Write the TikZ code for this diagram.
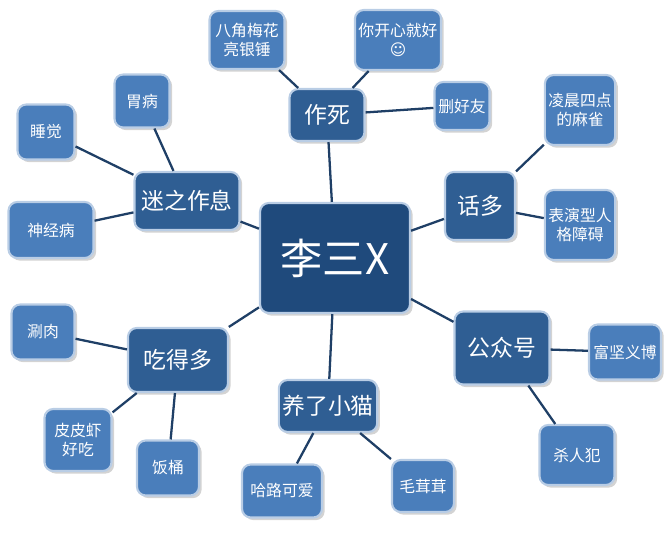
\documentclass[tikz,border=0pt]{standalone}
\usepackage{fontspec}
\setmainfont{Noto Sans CJK SC}
\newfontfamily\symfont{DejaVu Sans}
\usetikzlibrary{shadows}
\definecolor{hubblue}{HTML}{1F4A7C}
\definecolor{midblue}{HTML}{2F5E93}
\definecolor{leafblue}{HTML}{4A7EBB}
\definecolor{edgeblue}{HTML}{B9CDE5}
\definecolor{linkblue}{HTML}{1F3F66}

\begin{document}
\begin{tikzpicture}[x=0.02cm, y=-0.02cm,
    box/.style={draw=edgeblue, line width=1.2pt, rounded corners=5pt, text=white,
      align=center, inner sep=2pt, drop shadow={shadow xshift=1.5pt, shadow yshift=-1.5pt, opacity=0.35}},
    hub/.style={box, fill=hubblue, minimum width=3cm, minimum height=2.2cm, font=\fontsize{24}{28}\selectfont},
    topic/.style={box, fill=midblue, font=\fontsize{13}{15}\selectfont},
    leaf/.style={box, fill=leafblue, font=\fontsize{9}{11}\selectfont},
    link/.style={linkblue, line width=1.3pt}]
  \useasboundingbox (0,0) rectangle (672,536);

  % hub and topics
  \node[hub] (li) at (335,258) {李三X};
  \node[topic, minimum width=1.5cm, minimum height=1.04cm] (zuosi) at (327,115) {作死};
  \node[topic, minimum width=1.4cm, minimum height=1.36cm] (huaduo) at (480,206) {话多};
  \node[topic, minimum width=1.9cm, minimum height=1.46cm] (gzh) at (502,348) {公众号};
  \node[topic, minimum width=1.9cm, minimum height=1.04cm] (mao) at (328,406) {养了小猫};
  \node[topic, minimum width=2cm, minimum height=1.28cm] (chi) at (178,360) {吃得多};
  \node[topic, minimum width=2.1cm, minimum height=1.16cm] (mizhi) at (187,201) {迷之作息};

  % leaves
  \node[leaf, minimum width=1.5cm, minimum height=1.16cm] (bajiao) at (247,40) {八角梅花\\亮银锤};
  \node[leaf, minimum width=1.7cm, minimum height=1.2cm] (kaixin) at (398,40) {你开心就好\\{\symfont ☺}};
  \node[leaf, minimum width=1.1cm, minimum height=0.96cm] (shan) at (462,106) {删好友};
  \node[leaf, minimum width=1.4cm, minimum height=1.4cm] (lingchen) at (580,110) {凌晨四点\\的麻雀};
  \node[leaf, minimum width=1.4cm, minimum height=1.4cm] (biaoyan) at (580,225) {表演型人\\格障碍};
  \node[leaf, minimum width=1.44cm, minimum height=1.1cm] (fujian) at (625,352) {富坚义博};
  \node[leaf, minimum width=1.5cm, minimum height=1.2cm] (sharen) at (577,455) {杀人犯};
  \node[leaf, minimum width=1.6cm, minimum height=1.06cm] (halu) at (282,491) {哈路可爱};
  \node[leaf, minimum width=1.24cm, minimum height=1.04cm] (mao2) at (423,486) {毛茸茸};
  \node[leaf, minimum width=1.26cm, minimum height=1.1cm] (shuan) at (43,332) {涮肉};
  \node[leaf, minimum width=1.34cm, minimum height=1.24cm] (pipi) at (78,440) {皮皮虾\\好吃};
  \node[leaf, minimum width=1.24cm, minimum height=1.1cm] (fan) at (168,468) {饭桶};
  \node[leaf, minimum width=1.1cm, minimum height=1.06cm] (wei) at (142,101) {胃病};
  \node[leaf, minimum width=1.14cm, minimum height=1.1cm] (shui) at (46,132) {睡觉};
  \node[leaf, minimum width=1.7cm, minimum height=1.12cm] (shen) at (51,230) {神经病};

  % links
  \begin{scope}[on background layer/.style={}]
  \foreach \a/\b in {li/zuosi, li/huaduo, li/gzh, li/mao, li/chi, li/mizhi,
      zuosi/bajiao, zuosi/kaixin, zuosi/shan, huaduo/lingchen, huaduo/biaoyan,
      gzh/fujian, gzh/sharen, mao/halu, mao/mao2, chi/shuan, chi/pipi, chi/fan,
      mizhi/wei, mizhi/shui, mizhi/shen}
    \draw[link] (\a) -- (\b);
  \end{scope}
\end{tikzpicture}
\end{document}
